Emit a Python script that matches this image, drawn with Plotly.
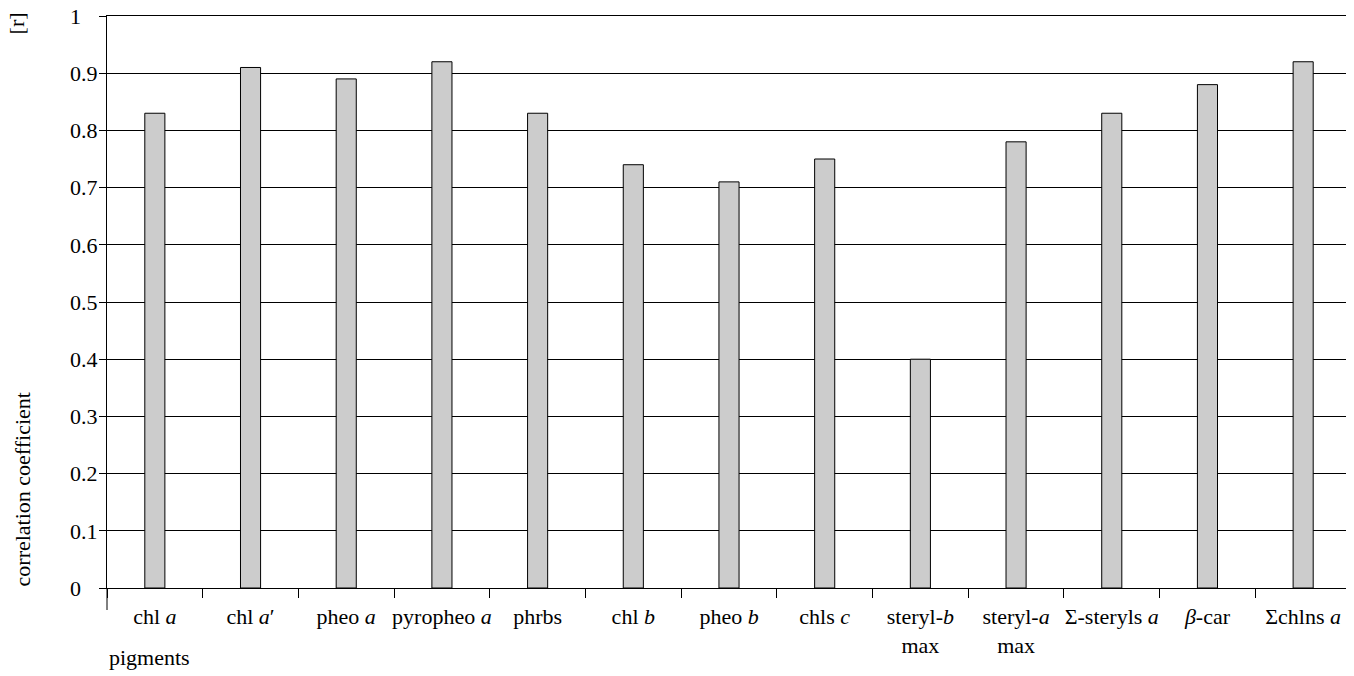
import plotly.graph_objects as go

# pigments and their correlation coefficient r
pigments = ['chl <i>a</i>', 'chl <i>a</i>′', 'pheo <i>a</i>', 'pyropheo <i>a</i>', 'phrbs',
            'chl <i>b</i>', 'pheo <i>b</i>', 'chls <i>c</i>', 'steryl-<i>b</i><br>max',
            'steryl-<i>a</i><br>max', 'Σ-steryls <i>a</i>', '<i>β</i>-car', 'Σchlns <i>a</i>']
r_values = [0.83, 0.91, 0.89, 0.92, 0.83, 0.74, 0.71, 0.75, 0.40, 0.78, 0.83, 0.88, 0.92]
y_ticks = [0, 0.1, 0.2, 0.3, 0.4, 0.5, 0.6, 0.7, 0.8, 0.9, 1]
# short labels padded so they line up on the left like the original
y_ticktext = ['0\u2008\u2007', '0.1', '0.2', '0.3', '0.4', '0.5', '0.6', '0.7', '0.8', '0.9',
              '1\u2008\u2007']

font = dict(family='Liberation Serif', size=22, color='black')

fig = go.Figure()
fig.add_trace(go.Bar(x=pigments, y=r_values,
                     marker=dict(color='#cccccc', line=dict(color='black', width=1))))

# page body adds 8px, so margins are a bit smaller here
fig.update_layout(
    width=1354, height=676,
    margin=dict(l=99, r=11, t=8, b=96),
    plot_bgcolor='white', paper_bgcolor='white',
    font=font, showlegend=False, bargap=0.79,
)
fig.update_xaxes(type='category', showline=True, linecolor='black', linewidth=1, mirror=True,
                 ticks='outside', tickson='boundaries', ticklen=9, tickcolor='black',
                 showgrid=False, tickangle=0, ticklabelstandoff=9, automargin=False,
                 tickfont=font)
fig.update_yaxes(range=[0, 1], tickvals=y_ticks, ticktext=y_ticktext,
                 showline=True, linecolor='black', linewidth=1, mirror=True,
                 ticks='outside', ticklen=7, tickcolor='black', ticklabelstandoff=-3,
                 ticklabeloverflow='allow',
                 showgrid=True, gridcolor='black', gridwidth=1, zeroline=False,
                 automargin=False, tickfont=font)

# y axis line continues a bit below zero
fig.add_shape(type='line', xref='paper', yref='paper', x0=0, x1=0, y0=0, y1=-22 / 572,
              line=dict(color='black', width=1))

fig.add_annotation(text='[r]', xref='paper', yref='paper', x=-89 / 1236, y=(588 - 23) / 572,
                   textangle=-90, showarrow=False, xanchor='center', yanchor='middle', font=font)
fig.add_annotation(text='correlation coefficient', xref='paper', yref='paper',
                   x=-83 / 1236, y=(588 - 489) / 572, textangle=-90, showarrow=False,
                   xanchor='center', yanchor='middle', font=font)
fig.add_annotation(text='pigments', xref='paper', yref='paper', x=0,
                   y=-(657 - 588) / 572, showarrow=False, xanchor='left', yanchor='middle',
                   font=font)

fig.write_html('out.html')
